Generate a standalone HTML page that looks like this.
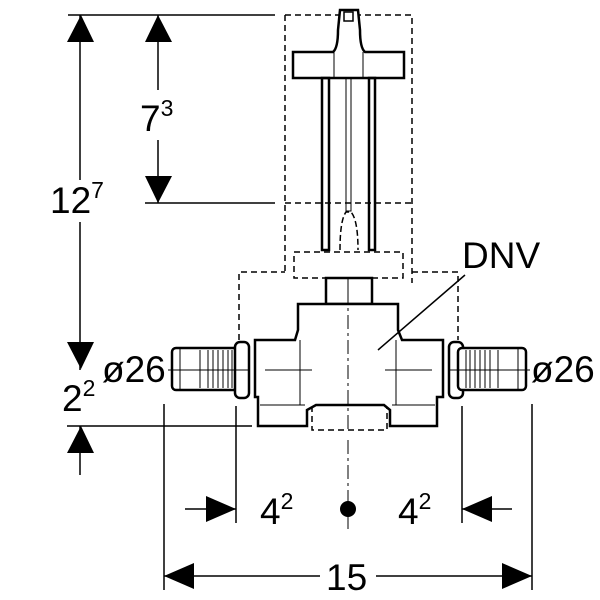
<!DOCTYPE html>
<html><head><style>body{margin:0;background:#fff}svg{display:block}text{font-family:"Liberation Sans",sans-serif;fill:#000}</style></head>
<body>
<svg width="600" height="600" viewBox="0 0 600 600" xmlns="http://www.w3.org/2000/svg">
<g stroke="#000" fill="none">
<line x1="68" y1="15" x2="275" y2="15" stroke-width="1.5"/>
<line x1="145" y1="203" x2="275" y2="203" stroke-width="1.5"/>
<line x1="67" y1="426" x2="252" y2="426" stroke-width="1.5"/>
<line x1="80" y1="15" x2="80" y2="180" stroke-width="1.5"/>
<line x1="80" y1="222" x2="80" y2="370" stroke-width="1.5"/>
<line x1="80" y1="426" x2="80" y2="475" stroke-width="1.5"/>
<line x1="158" y1="15" x2="158" y2="90" stroke-width="1.5"/>
<line x1="158" y1="140" x2="158" y2="203" stroke-width="1.5"/>
<line x1="164" y1="404" x2="164" y2="590" stroke-width="1.5"/>
<line x1="236" y1="406" x2="236" y2="523" stroke-width="1.5"/>
<line x1="462" y1="406" x2="462" y2="523" stroke-width="1.5"/>
<line x1="532" y1="404" x2="532" y2="590" stroke-width="1.5"/>
<line x1="185" y1="509" x2="236" y2="509" stroke-width="1.5"/>
<line x1="462" y1="509" x2="512" y2="509" stroke-width="1.5"/>
<line x1="164" y1="576" x2="320" y2="576" stroke-width="1.5"/>
<line x1="376" y1="576" x2="532" y2="576" stroke-width="1.5"/>
<line x1="348" y1="440" x2="348" y2="530" stroke-width="1" stroke-dasharray="14,4,3,4"/>
<g stroke-width="1.5" stroke-dasharray="6,4">
<path d="M285 15 H412 V283 M285 15 V275"/>
<line x1="285" y1="203" x2="412" y2="203"/>
<rect x="294" y="252" width="109" height="26"/>
<path d="M239 340 V272 H285 M412 272 H458 V340"/>
<rect x="312" y="388" width="75" height="42"/>
<path d="M255 387 H312 M387 387 H443"/>
</g>
<path d="M293 52 H333 Q338 48 338 30 L340 10 H358 L360 30 Q360 48 365 52 H404 V78 H293 Z" stroke-width="2.5" fill="#fff"/>
<rect x="344" y="12" width="9" height="9" stroke-width="1.5"/>
<line x1="334" y1="52" x2="334" y2="78" stroke-width="1"/>
<line x1="363" y1="52" x2="363" y2="78" stroke-width="1"/>
<rect x="322" y="78" width="7" height="172" stroke-width="2.5"/>
<rect x="369" y="78" width="6" height="172" stroke-width="2.5"/>
<rect x="346" y="78" width="5" height="133" stroke-width="1"/>
<path d="M340 250 Q340 220 346 212 H351 Q358 220 358 250" stroke-width="1.5" stroke-dasharray="6,3"/>
<rect x="326" y="278" width="46" height="26" stroke-width="2.5"/>
<line x1="348" y1="278" x2="348" y2="304" stroke-width="1"/>
<path d="M298 304 H398 V330 L402 340 H443 V397 H437 V426 H390 V410 L384 405 H316 L307 410 V426 H258 V397 H255 V340 H295 L298 330 Z" stroke-width="2.5" fill="#fff"/>
<line x1="300" y1="340" x2="300" y2="405" stroke-width="1"/>
<line x1="396" y1="340" x2="396" y2="405" stroke-width="1"/>
<line x1="260" y1="405" x2="305" y2="405" stroke-width="1"/>
<line x1="392" y1="405" x2="435" y2="405" stroke-width="1"/>
<line x1="348" y1="290" x2="348" y2="430" stroke-width="1" stroke-dasharray="14,4,3,4"/>
<line x1="265" y1="370" x2="312" y2="370" stroke-width="1"/>
<line x1="385" y1="370" x2="432" y2="370" stroke-width="1"/>
<line x1="465" y1="275" x2="378" y2="350" stroke-width="1.5"/>
<g stroke-width="2.5" fill="#fff">
<rect x="172" y="348" width="68" height="42" rx="4"/>
<rect x="235" y="342" width="14" height="56" rx="5"/>
<rect x="449" y="342" width="14" height="56" rx="5"/>
<rect x="458" y="348" width="68" height="42" rx="4"/>
</g>
<g stroke-width="1">
<path d="M180 348 V390 M200 350 V388 M208 350 V388 M213 350 V388 M218 350 V388 M223 350 V388 M228 350 V388 M232 350 V388"/>
<path d="M518 348 V390 M498 350 V388 M490 350 V388 M485 350 V388 M480 350 V388 M475 350 V388 M470 350 V388 M466 350 V388"/>
<line x1="168" y1="370" x2="250" y2="370"/>
<line x1="448" y1="370" x2="530" y2="370"/>
</g>
</g>
<g fill="#000">
<polygon points="67,42 94,42 81,15"/>
<polygon points="67,342 94,342 81,369"/>
<polygon points="67,453 94,453 81,426"/>
<polygon points="145,42 172,42 158,15"/>
<polygon points="145,176 172,176 158,203"/>
<polygon points="206,496 206,522 236,509"/>
<polygon points="492,496 492,522 462,509"/>
<polygon points="194,563 194,589 164,576"/>
<polygon points="502,563 502,589 532,576"/>
<circle cx="348" cy="509" r="8"/>
</g>
<rect x="50" y="180" width="60" height="40" fill="#fff"/>
<text x="50" y="213" font-size="37">12<tspan font-size="23" dy="-15">7</tspan></text>
<text x="140" y="131" font-size="37">7<tspan font-size="23" dy="-15">3</tspan></text>
<text x="62" y="411" font-size="37">2<tspan font-size="23" dy="-15">2</tspan></text>
<text x="102" y="382" font-size="37">ø26</text>
<text x="531" y="382" font-size="37">ø26</text>
<text x="462" y="268" font-size="37">DNV</text>
<text x="260" y="524" font-size="37">4<tspan font-size="23" dy="-15">2</tspan></text>
<text x="398" y="524" font-size="37">4<tspan font-size="23" dy="-15">2</tspan></text>
<text x="326" y="590" font-size="37">15</text>
</svg>
</body></html>
